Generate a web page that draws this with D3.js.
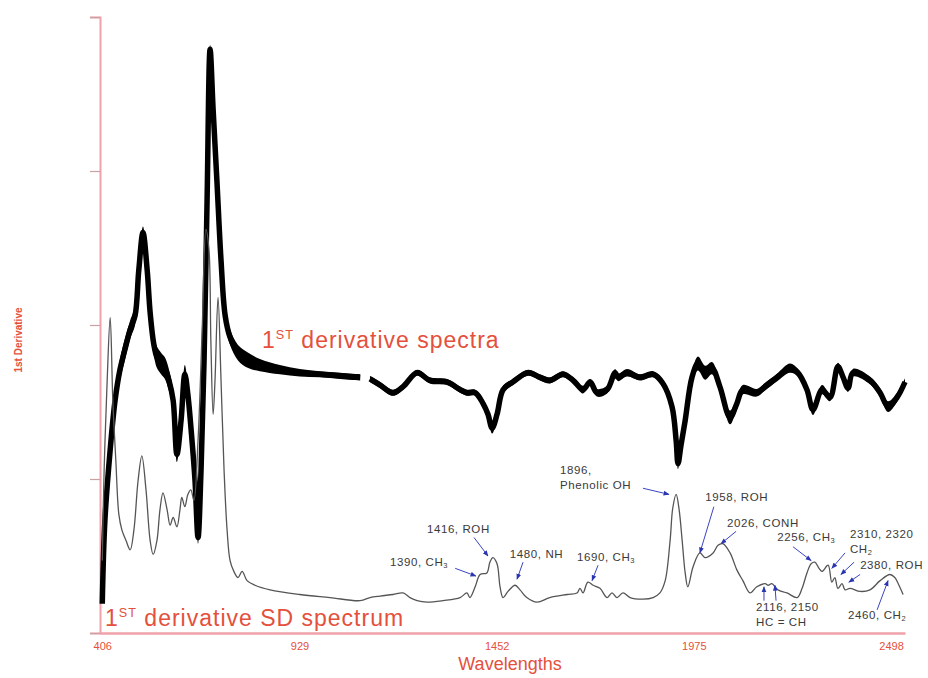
<!DOCTYPE html>
<html><head><meta charset="utf-8">
<script src="https://cdn.jsdelivr.net/npm/d3@7"></script>
<style>body{margin:0;background:#fff}svg{display:block}</style>
</head><body><svg id="c" width="928" height="678"></svg>
<script>
// ---- data: 1st derivative spectra (bundle, mean + half spread) ----
const bundleWavelengths = [406,413,427,440,453,466,480,493,503,514,525,533,543,551,562,572,583,594,604,615,625,633,644,652,660,668,676,684,692,700,710,721,732,745,766,793,824,877,930,983,1037,1090,1103,1116,1143,1177,1204,1241,1275,1320,1355,1373,1395,1416,1429,1440,1453,1469,1495,1535,1567,1593,1628,1655,1681,1700,1718,1745,1766,1774,1798,1832,1867,1893,1917,1928,1933,1941,1952,1970,1986,2005,2023,2044,2071,2089,2105,2142,2164,2196,2230,2251,2275,2291,2315,2336,2357,2371,2384,2397,2442,2469,2490,2514,2535];
const bundleValues = [-1.81,-1.27,-0.81,-0.49,-0.29,-0.16,-0.03,0.06,0.36,0.60,0.36,0.08,-0.13,-0.21,-0.25,-0.28,-0.36,-0.49,-0.84,-0.62,-0.32,-0.45,-0.75,-1.01,-1.38,-0.94,-0.23,0.81,1.79,1.40,0.94,0.42,0.06,-0.08,-0.18,-0.23,-0.26,-0.29,-0.31,-0.32,-0.33,-0.34,null,-0.35,-0.39,-0.44,-0.40,-0.31,-0.36,-0.37,-0.42,-0.44,-0.44,-0.51,-0.58,-0.67,-0.58,-0.42,-0.37,-0.31,-0.34,-0.36,-0.32,-0.36,-0.42,-0.37,-0.44,-0.42,-0.31,-0.34,-0.31,-0.34,-0.32,-0.38,-0.53,-0.75,-0.90,-0.78,-0.62,-0.34,-0.25,-0.31,-0.28,-0.40,-0.60,-0.51,-0.42,-0.44,-0.40,-0.34,-0.28,-0.31,-0.42,-0.55,-0.42,-0.47,-0.27,-0.34,-0.41,-0.31,-0.36,-0.44,-0.53,-0.47,-0.37];
const bundleSpread = [0.03,0.05,0.07,0.07,0.07,0.07,0.06,0.06,0.05,0.04,0.05,0.06,0.07,0.07,0.07,0.07,0.07,0.06,0.05,0.06,0.06,0.06,0.06,0.05,0.04,0.04,0.04,0.04,0.03,0.04,0.05,0.05,0.05,0.05,0.05,0.05,0.04,0.03,0.025,0.02,0.02,0.02,null,0.02,0.02,0.02,0.02,0.02,0.02,0.02,0.02,0.02,0.02,0.025,0.03,0.035,0.03,0.025,0.02,0.02,0.02,0.02,0.02,0.02,0.025,0.02,0.025,0.025,0.025,0.025,0.025,0.02,0.02,0.025,0.035,0.035,0.035,0.035,0.035,0.035,0.045,0.045,0.04,0.035,0.045,0.035,0.03,0.025,0.025,0.025,0.03,0.025,0.025,0.035,0.03,0.025,0.025,0.025,0.025,0.025,0.025,0.03,0.035,0.03,0.025];

// ---- data: 1st derivative SD spectrum ----
const sdWavelengths = [406,411,419,427,434,442,450,458,469,480,490,501,511,522,533,541,551,559,567,578,586,594,604,612,617,625,633,641,649,660,671,681,689,694,700,705,713,721,729,737,745,755,766,777,790,811,851,930,1010,1090,1116,1143,1177,1204,1222,1241,1267,1310,1355,1373,1381,1395,1408,1426,1434,1442,1453,1461,1469,1482,1501,1514,1532,1559,1593,1639,1665,1673,1681,1694,1708,1726,1745,1758,1771,1787,1806,1840,1867,1885,1899,1912,1919,1928,1936,1944,1952,1959,1973,1991,2005,2026,2039,2052,2071,2089,2105,2124,2142,2164,2172,2182,2198,2222,2249,2262,2275,2286,2296,2307,2315,2331,2341,2349,2357,2368,2376,2389,2416,2442,2469,2495,2508,2517,2530];
const sdValues = [-1.53,-0.94,-0.36,0.05,-0.49,-0.88,-1.23,-1.33,-1.40,-1.46,-1.33,-1.01,-0.85,-1.07,-1.40,-1.49,-1.40,-1.20,-1.09,-1.20,-1.30,-1.25,-1.31,-1.20,-1.12,-1.18,-1.10,-1.07,-1.14,-0.75,-0.03,0.62,0.49,-0.10,-0.58,-0.36,0.18,-0.36,-0.94,-1.33,-1.53,-1.60,-1.64,-1.60,-1.66,-1.69,-1.72,-1.75,-1.77,-1.79,-1.77,-1.76,-1.75,-1.74,-1.77,-1.79,-1.80,-1.79,-1.77,-1.74,-1.77,-1.70,-1.62,-1.61,-1.54,-1.51,-1.55,-1.70,-1.77,-1.73,-1.69,-1.72,-1.77,-1.80,-1.77,-1.75,-1.74,-1.71,-1.74,-1.67,-1.69,-1.71,-1.77,-1.74,-1.77,-1.74,-1.77,-1.78,-1.77,-1.74,-1.66,-1.40,-1.19,-1.10,-1.20,-1.40,-1.61,-1.70,-1.57,-1.48,-1.51,-1.48,-1.43,-1.42,-1.48,-1.59,-1.66,-1.74,-1.70,-1.68,-1.69,-1.68,-1.72,-1.74,-1.77,-1.71,-1.61,-1.55,-1.54,-1.58,-1.60,-1.56,-1.67,-1.64,-1.71,-1.68,-1.72,-1.71,-1.73,-1.72,-1.66,-1.62,-1.64,-1.68,-1.75];

// ---- axes ----
const xTickValues = [406, 929, 1452, 1975, 2498];
const yTickValues = [-2, -1, 0, 1, 2];

// ---- band annotations (label lines, text anchor and arrows in data units) ----
const annotations = [
  {lines:["1390, CH_3"], tx:1169, ty:-1.565, arrows:[[1342,-1.58,1397,-1.63]]},
  {lines:["1416, ROH"], tx:1267, ty:-1.35, arrows:[[1392,-1.38,1429,-1.50]]},
  {lines:["1480, NH"], tx:1487, ty:-1.51, arrows:[[1522,-1.54,1506,-1.65]]},
  {lines:["1690, CH_3"], tx:1665, ty:-1.53, arrows:[[1721,-1.56,1705,-1.66]]},
  {lines:["1896,","Phenolic OH"], tx:1620, ty:-0.97, arrows:[[1840,-1.06,1909,-1.10]]},
  {lines:["1958, ROH"], tx:2005, ty:-1.14, arrows:[[2028,-1.18,1991,-1.48]]},
  {lines:["2026, CONH"], tx:2063, ty:-1.31, arrows:[[2087,-1.34,2047,-1.42]]},
  {lines:["2256, CH_3"], tx:2196, ty:-1.40, arrows:[[2238,-1.44,2286,-1.53]]},
  {lines:["2310, 2320","CH_2"], tx:2389, ty:-1.38, arrows:[[2376,-1.48,2341,-1.58],[2400,-1.54,2365,-1.62]]},
  {lines:["2380, ROH"], tx:2416, ty:-1.585, arrows:[[2416,-1.62,2386,-1.67]]},
  {lines:["2460, CH_2"], tx:2384, ty:-1.91, arrows:[[2461,-1.85,2490,-1.66]]},
  {lines:["2116, 2150","HC = CH"], tx:2140, ty:-1.86, arrows:[[2161,-1.79,2161,-1.70],[2193,-1.79,2190,-1.69]]}
];

const svg = d3.select("#c");
const x = d3.scaleLinear().domain([400, 2535]).range([100, 905]);
const y = d3.scaleLinear().domain([-2, 2]).range([633, 17]);
const red = "#e4503c";
const axisPink = "#f0a2aa";
const font = "'Liberation Sans', Arial, Helvetica, sans-serif";

// arrow marker
svg.append("defs").append("marker")
  .attr("id","ah").attr("viewBox","0 0 10 10").attr("refX",9).attr("refY",5)
  .attr("markerWidth",6).attr("markerHeight",6).attr("orient","auto")
  .append("path").attr("d","M0,1 L10,5 L0,9 Z").attr("fill","#2a35b0");

// axes
const yAxis = svg.append("g").attr("transform","translate(100,0)")
  .call(d3.axisLeft(y).tickValues(yTickValues).tickSize(10).tickFormat(""));
yAxis.select(".domain").attr("stroke",axisPink).attr("stroke-width",2);
yAxis.selectAll(".tick line").attr("stroke","#c9a0a4").attr("stroke-width",1.2);

const xAxis = svg.append("g").attr("transform","translate(0,633)")
  .call(d3.axisBottom(x).tickValues(xTickValues).tickSize(0).tickPadding(9).tickFormat(d3.format("d")));
xAxis.select(".domain").attr("stroke",axisPink).attr("stroke-width",2.5);
xAxis.selectAll(".tick text").attr("fill",red).attr("font-family",font).attr("font-size",11);

svg.append("text").attr("x",510).attr("y",670).attr("text-anchor","middle")
  .attr("font-family",font).attr("font-size",18).attr("fill",red).text("Wavelengths");
svg.append("text").attr("transform","translate(22,340) rotate(-90)").attr("text-anchor","middle")
  .attr("font-family",font).attr("font-size",10).attr("font-weight","bold").attr("fill",red).text("1st Derivative");

// SD spectrum (under the bundle)
const sd = sdWavelengths.map((w,i)=>({w, v:sdValues[i]}));
const sdPath = d3.line().x(d=>x(d.w)).y(d=>y(d.v)).curve(d3.curveCatmullRom.alpha(0.5));

// bundle
const bundle = bundleWavelengths.map((w,i)=>({w, v:bundleValues[i], s:bundleSpread[i]}));
const band = d3.area().defined(d=>d.v!==null)
  .x(d=>x(d.w)).y0(d=>y(d.v - d.s)).y1(d=>y(d.v + d.s)).curve(d3.curveCatmullRom.alpha(0.5));
const bline = d3.line().defined(d=>d.v!==null)
  .x(d=>x(d.w)).y(d=>y(d.v)).curve(d3.curveCatmullRom.alpha(0.5));
svg.append("path").datum(bundle).attr("d",band).attr("fill","#000");
svg.append("path").datum(bundle).attr("d",bline).attr("fill","none")
  .attr("stroke","#000").attr("stroke-width",5.5).attr("stroke-linejoin","round");

svg.append("path").datum(sd).attr("d", sdPath)
  .attr("fill","none").attr("stroke","#555").attr("stroke-width",1.3);

// big labels
function bigLabel(px, py, size, rest){
  const t = svg.append("text").attr("x",px).attr("y",py).attr("font-family",font)
    .attr("font-size",size).attr("fill",red).attr("letter-spacing",1);
  t.append("tspan").text("1");
  t.append("tspan").attr("font-size",size*0.55).attr("dy",-size*0.38).text("ST");
  t.append("tspan").attr("dy",size*0.38).text(" " + rest);
}
bigLabel(262, 348, 23, "derivative spectra");
bigLabel(105, 626, 23, "derivative SD spectrum");

// annotations
const ag = svg.append("g");
annotations.forEach(a=>{
  a.lines.forEach((ln,li)=>{
    const t = ag.append("text").attr("x",x(a.tx)).attr("y",y(a.ty)+li*15)
      .attr("font-family",font).attr("font-size",11.5).attr("letter-spacing",0.6).attr("fill","#3a3a3a");
    ln.split(/(_\d)/).forEach(seg=>{
      if(!seg) return;
      if(seg[0]==="_"){
        t.append("tspan").attr("font-size",7.5).attr("dy",2).text(seg.slice(1));
        t.append("tspan").attr("dy",-2).text("");
      } else t.append("tspan").text(seg);
    });
  });
  a.arrows.forEach(ar=>{
    ag.append("line").attr("x1",x(ar[0])).attr("y1",y(ar[1])).attr("x2",x(ar[2])).attr("y2",y(ar[3]))
      .attr("stroke","#3a45c0").attr("stroke-width",1).attr("marker-end","url(#ah)");
  });
});
</script></body></html>
